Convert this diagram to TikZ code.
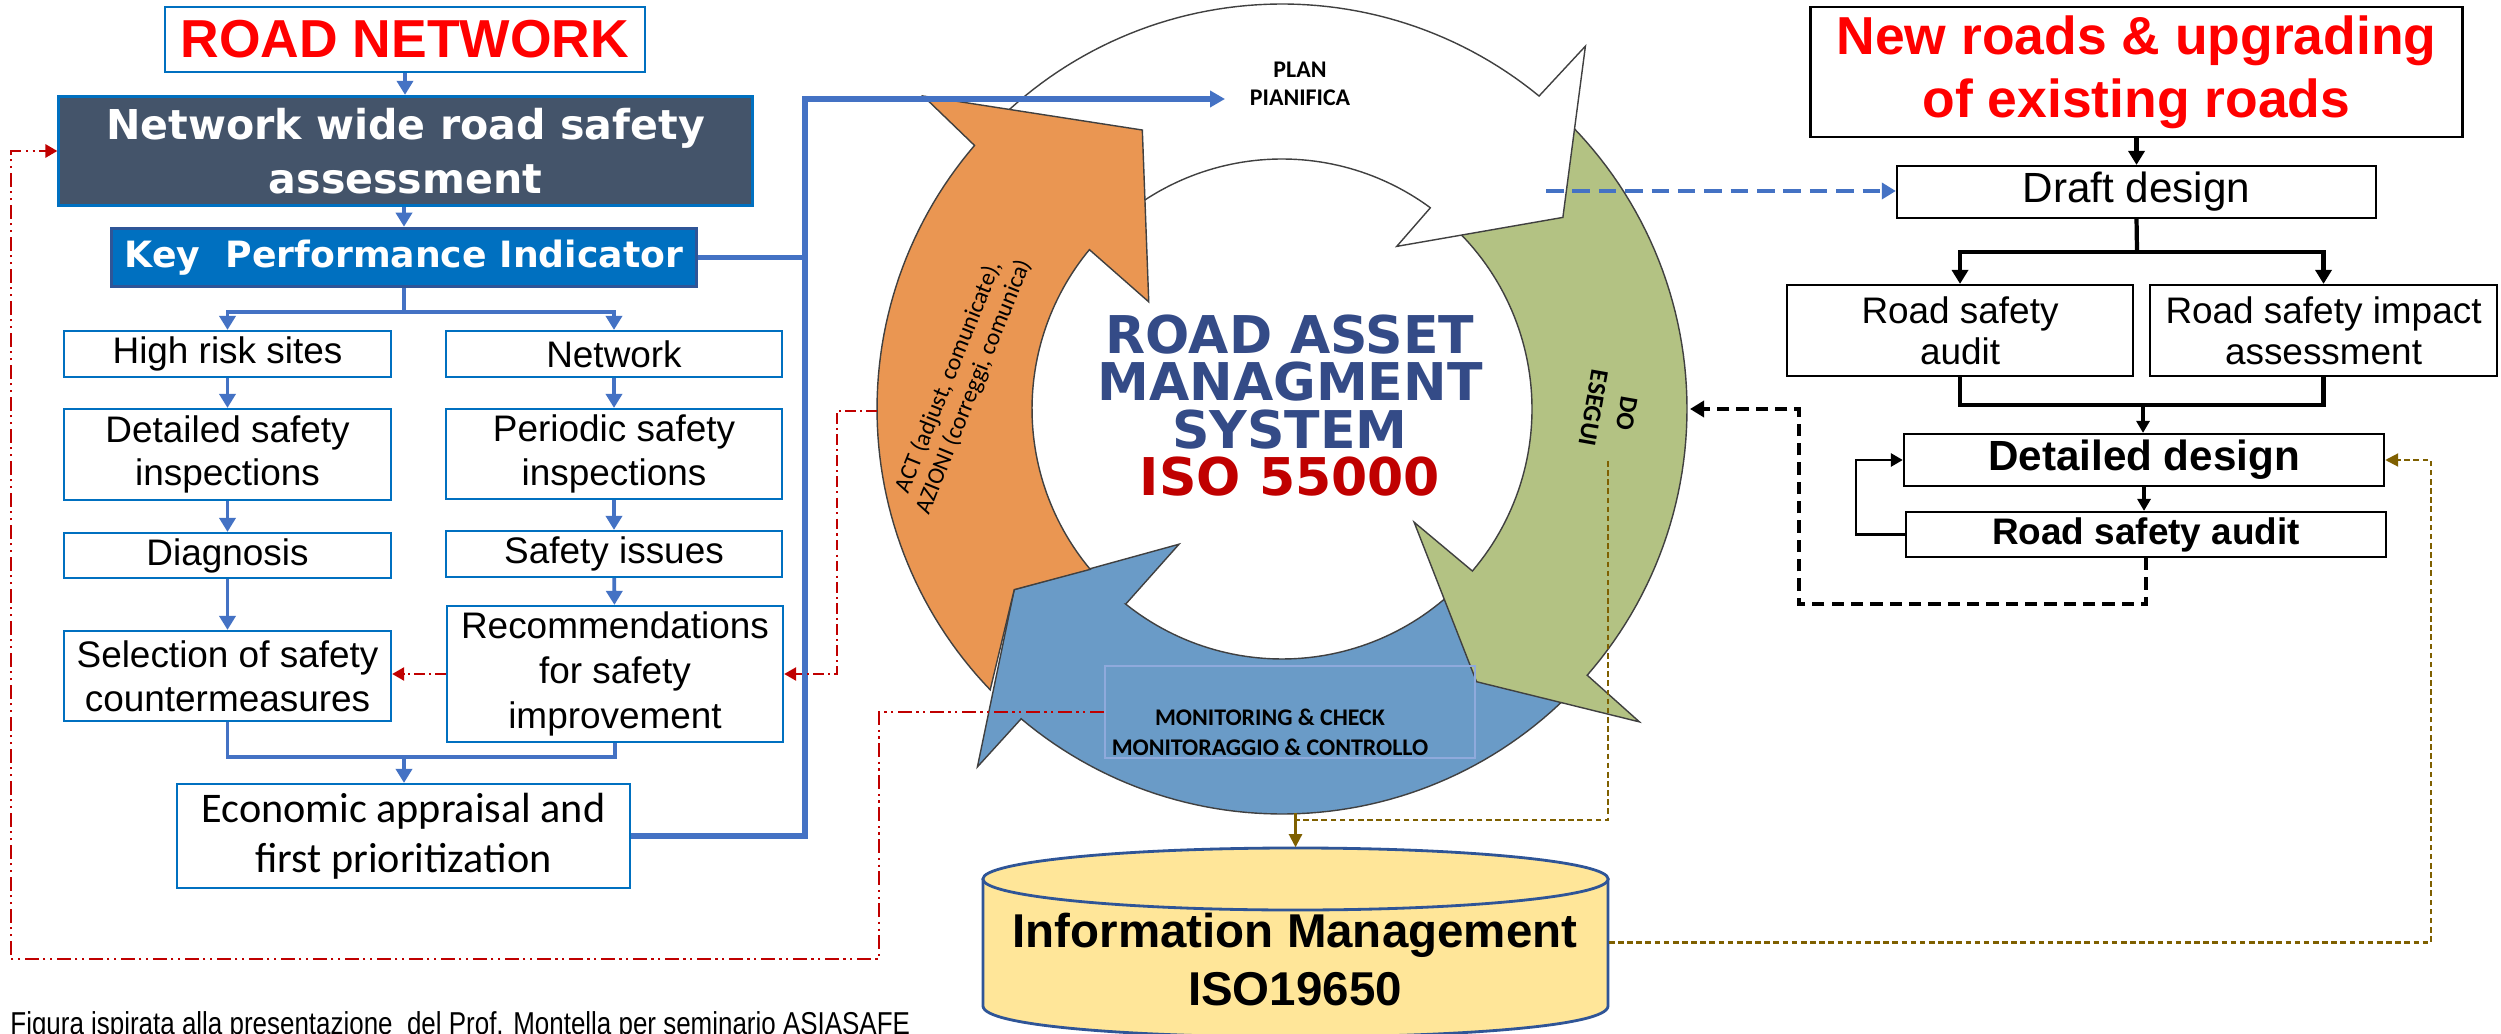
\documentclass[tikz,border=0pt]{standalone}
\usepackage{fontspec}
\setmainfont{Liberation Sans}
\newfontfamily\calib{Carlito}
\newfontfamily\dejavu{DejaVu Sans}
\newfontfamily\narrowf[FakeStretch=0.82]{Liberation Sans}
\usetikzlibrary{arrows.meta,calc}
\definecolor{lblue}{RGB}{0,112,192}
\definecolor{cblue}{RGB}{68,114,196}
\definecolor{slate}{RGB}{68,84,106}
\definecolor{kpiborder}{RGB}{47,85,151}
\definecolor{dred}{RGB}{192,0,0}
\definecolor{brred}{RGB}{255,0,0}
\definecolor{brn}{RGB}{127,96,0}
\definecolor{navy}{RGB}{52,75,135}
\definecolor{orangeA}{RGB}{234,150,82}
\definecolor{greenA}{RGB}{179,194,131}
\definecolor{blueA}{RGB}{106,155,199}
\definecolor{cylfill}{RGB}{255,230,153}
\definecolor{cylline}{RGB}{47,85,151}
\definecolor{monborder}{RGB}{143,170,220}
\definecolor{cycedge}{RGB}{64,64,64}
\tikzset{
  lbox/.style={draw=lblue, line width=0.6pt, fill=white, align=center, inner sep=0pt,
    font=\fontsize{10.5}{12.4}\selectfont},
  rbox/.style={draw=black, line width=0.6pt, fill=white, align=center, inner sep=0pt},
  conn/.style={draw=cblue, line width=1.1pt},
  conn2/.style={draw=cblue, line width=1.5pt},
  arrB/.style={-{Triangle[length=1.4mm,width=1.6mm]}},
  arrS/.style={-{Triangle[length=1.2mm,width=1.3mm]}},
  red1/.style={draw=dred, line width=0.7pt, dash pattern=on 3pt off 1.2pt on 0.6pt off 1.2pt},
  red2/.style={draw=dred, line width=0.8pt, dash pattern=on 4pt off 1.3pt on 0.6pt off 1.3pt on 0.6pt off 1.3pt},
  kconn/.style={draw=black, line width=1.2pt},
  kthin/.style={draw=black, line width=0.8pt},
  kdash/.style={draw=black, line width=1.3pt, dash pattern=on 3.5pt off 2pt},
  bdash/.style={draw=cblue, line width=1.4pt, dash pattern=on 5pt off 2.5pt},
  brdash/.style={draw=brn, line width=0.6pt, dash pattern=on 1.6pt off 1pt},
  cyc/.style={draw=cycedge, line width=0.4pt},
}
\begin{document}
\begin{tikzpicture}[x=0.01cm,y=-0.01cm]
\useasboundingbox (0,0) rectangle (2501,1034);
\clip (0,0) rectangle (2501,1034);
\fill[white] (0,0) rectangle (2501,1034);

% ---------------- cycle ----------------
\coordinate (O) at (1282,409);
\filldraw[cyc, fill=blueA] plot[domain=44:130.1,samples=60] ({1282+405*cos(\x)},{409+405*sin(\x)})
  -- ($(O)+(130.4:470)$) -- ($(O)+(146:323)$) -- ($(O)+(127.3:170)$) -- ($(O)+(128.7:250)$)
  -- plot[domain=128.7:44,samples=60] ({1282+250*cos(\x)},{409+250*sin(\x)}) -- cycle;
\filldraw[cyc, fill=greenA] plot[domain=-49:41.1,samples=60] ({1282+405*cos(\x)},{409+405*sin(\x)})
  -- ($(O)+(41.2:475)$) -- ($(O)+(54.5:335)$) -- ($(O)+(40.6:174)$) -- ($(O)+(40.4:250)$)
  -- plot[domain=40.4:-49,samples=60] ({1282+250*cos(\x)},{409+250*sin(\x)}) -- cycle;
\filldraw[cyc, fill=white] plot[domain=-135:-50.6,samples=60] ({1282+405*cos(\x)},{409+405*sin(\x)})
  -- ($(O)+(-50.1:473)$) -- ($(O)+(-34.3:340)$) -- ($(O)+(-54.8:199)$) -- ($(O)+(-53.6:250)$)
  -- plot[domain=-53.6:-135,samples=60] ({1282+250*cos(\x)},{409+250*sin(\x)}) -- cycle;
\filldraw[cyc, fill=orangeA] plot[domain=136.1:220.6,samples=60] ({1282+405*cos(\x)},{409+405*sin(\x)})
  -- ($(O)+(221.1:476)$) -- ($(O)+(243.4:312)$) -- ($(O)+(218.8:171)$) -- ($(O)+(219.6:250)$)
  -- plot[domain=219.6:140.1,samples=60] ({1282+250*cos(\x)},{409+250*sin(\x)})
  -- ($(O)+(146:323)$) -- cycle;

\node[font=\calib\bfseries\fontsize{6.8}{8.1}\selectfont, align=center] (plan) at (1300,84) {PLAN\\PIANIFICA};
\node[font=\calib\fontsize{6.8}{7.7}\selectfont, align=center, rotate=68] (act) at (961,382)
  {ACT (adjust, comunicate),\\AZIONI (correggi, comunica)};
\node[font=\calib\bfseries\fontsize{7.3}{9.6}\selectfont, align=center, rotate=-100] (do) at (1610,411) {DO\\ESEGUI};
\node[draw=monborder, line width=0.6pt, minimum width=3.7cm, minimum height=0.92cm] (monbox) at (1290,712) {};
\node[font=\calib\bfseries\fontsize{6.8}{8.5}\selectfont, align=center] (montxt) at (1270,732)
  {MONITORING \& CHECK\\MONITORAGGIO \& CONTROLLO};
\node[font=\dejavu\bfseries\fontsize{14.8}{13.4}\selectfont, text=navy, align=center] (ram) at (1290,405.5)
  {ROAD ASSET\\MANAGMENT\\SYSTEM\\\textcolor{dred}{ISO 55000}};

% ---------------- cylinder ----------------
\node[minimum width=6.25cm, minimum height=1.89cm] (cyl) at (1295.5,942.5) {};
\filldraw[fill=cylfill, draw=cylline, line width=0.8pt] (983,879) -- (983,1006)
  .. controls (983,1047.3) and (1608,1047.3) .. (1608,1006) -- (1608,879);
\filldraw[fill=cylfill, draw=cylline, line width=0.8pt] (1295.5,879) ellipse [x radius=3.125cm, y radius=0.31cm];
\node[font=\bfseries\fontsize{13.5}{16.5}\selectfont, align=center] (imtxt) at (1295,960)
  {Information Management\\ISO19650};

% ---------------- left flow ----------------
\node[draw=lblue, line width=0.6pt, fill=white, minimum width=4.8cm, minimum height=0.65cm,
  font=\bfseries\fontsize{15.2}{18}\selectfont, text=brred] (rn) at (405,39.5) {ROAD NETWORK};
\node[draw=lblue, line width=0.8pt, fill=slate, minimum width=6.93cm, minimum height=1.04cm, align=center,
  font=\dejavu\bfseries\fontsize{11.7}{15.4}\selectfont, text=white] (nw) at (405.5,151)
  {Network wide road safety\\assessment};
\node[draw=kpiborder, line width=0.8pt, fill=lblue, minimum width=5.84cm, minimum height=0.57cm,
  font=\dejavu\bfseries\fontsize{10.3}{12}\selectfont, text=white] (kpi) at (404,257.5)
  {Key\ \ Performance Indicator};
\node[lbox, minimum width=3.27cm, minimum height=0.46cm] (hr) at (227.5,354) {High risk sites};
\node[lbox, minimum width=3.36cm, minimum height=0.46cm] (net) at (614,354) {Network};
\node[lbox, minimum width=3.27cm, minimum height=0.91cm] (dsi) at (227.5,454.5) {Detailed safety\\inspections};
\node[lbox, minimum width=3.36cm, minimum height=0.90cm] (psi) at (614,454) {Periodic safety\\inspections};
\node[lbox, minimum width=3.27cm, minimum height=0.45cm] (diag) at (227.5,555.5) {Diagnosis};
\node[lbox, minimum width=3.36cm, minimum height=0.46cm] (si) at (614,554) {Safety issues};
\node[lbox, minimum width=3.27cm, minimum height=0.90cm] (sel) at (227.5,676) {Selection of safety\\countermeasures};
\node[lbox, minimum width=3.36cm, minimum height=1.36cm, font=\fontsize{10.5}{12.8}\selectfont] (rec) at (615,674)
  {Recommendations\\for safety\\improvement};
\node[lbox, minimum width=4.53cm, minimum height=1.04cm, font=\calib\fontsize{12}{14.2}\selectfont] (eco) at (403.5,836)
  {Economic appraisal and\\first prioritization};

\draw[conn, arrB] (rn.south) -- (rn.south |- nw.north);
\draw[conn, arrB] (nw.south -| kpi.north) -- (kpi.north);
\draw[conn] (kpi.south) -- ++(0,24) coordinate (ks);
\draw[conn, arrB] (ks) -| (hr.north);
\draw[conn, arrB] (ks) -| (net.north);
\draw[conn, arrB] (hr) -- (dsi);
\draw[conn, arrB] (dsi) -- (diag);
\draw[conn, arrB] (diag) -- (sel);
\draw[conn, arrB] (net) -- (psi);
\draw[conn, arrB] (psi) -- (si);
\draw[conn, arrB] (si) -- (rec);
\coordinate (jn) at (404,757);
\draw[conn] (sel.south) |- (jn) -| (rec.south);
\draw[conn, arrB] (jn) -- (jn |- eco.north);
\coordinate (bus) at (805,99);
\coordinate (plantip) at (1225,99);
\draw[conn2] (kpi.east) -- (kpi.east -| bus);
\draw[conn2, -{Triangle[length=1.5mm,width=1.6mm]}] (eco.east) -| (bus) -- (plantip);

% red dash-dot
\draw[red1, arrS, dred] (rec.west) -- (rec.west -| sel.east);
\coordinate (actL) at (877,411);
\draw[red1, arrS, dred] (actL) -- (837,411) |- (rec.east);
\draw[red2, arrS, dred] (monbox.west) -- (879,712) |- (11,959) |- (nw.west);

% ---------------- right flow ----------------
\node[rbox, line width=0.8pt, minimum width=6.51cm, minimum height=1.3cm,
  font=\bfseries\fontsize{15.2}{17.9}\selectfont, text=brred] (nr) at (2136.5,72)
  {New roads \& upgrading\\of existing roads};
\node[rbox, minimum width=4.79cm, minimum height=0.52cm, font=\fontsize{12}{14}\selectfont] (dd) at (2136.5,192) {Draft design};
\node[rbox, minimum width=3.46cm, minimum height=0.91cm, font=\fontsize{10.5}{11.7}\selectfont] (rsa) at (1960,330.5) {Road safety\\audit};
\node[rbox, minimum width=3.47cm, minimum height=0.91cm, font=\fontsize{10.5}{11.7}\selectfont] (rsia) at (2323.5,330.5) {Road safety impact\\assessment};
\node[rbox, minimum width=4.8cm, minimum height=0.52cm, font=\bfseries\fontsize{12}{14}\selectfont] (det) at (2144,460) {Detailed design};
\node[rbox, minimum width=4.8cm, minimum height=0.45cm, font=\bfseries\fontsize{10.5}{12}\selectfont] (rsa2) at (2146,534.5) {Road safety audit};

\draw[kconn, arrB] (nr.south) -- (nr.south |- dd.north);
\coordinate (ds) at (2137,252);
\draw[kconn] (dd.south) -- (ds);
\draw[kconn, arrB] (ds) -| (rsa.north);
\draw[kconn, arrB] (ds) -| (rsia.north);
\coordinate (js) at (2143,405);
\draw[kconn] (rsa.south) |- (js) -| (rsia.south);
\draw[kconn, arrS] (js) -- (js |- det.north);
\draw[kconn, arrS] (det.south) -- (det.south |- rsa2.north);
\draw[kthin, arrS] (rsa2.west) -- (1856,534.5) |- (det.west);
\coordinate (grR) at (1690,409);
\draw[kdash, arrB] (rsa2.south) -- (2146,604) -| (1799,409) -- (grR);
\coordinate (whR) at (1546,191);
\draw[bdash, arrB] (whR) -- (whR -| dd.west);
\coordinate (doB) at (1608,461);
\coordinate (blueB) at (1295.5,813);
\draw[brdash] (doB) |- (1295.5,820);
\draw[draw=brn, line width=0.6pt, -{Triangle[length=1.3mm,width=1.3mm]}] (blueB) -- (cyl.north);
\draw[brdash, -{Triangle[length=1.3mm,width=1.3mm]}, brn] (cyl.east) -- (2431,942.5) |- (det.east);

% footer
\node[anchor=base west, font=\narrowf\fontsize{9}{11}\selectfont] (fig) at (-2,1034)
  {Figura ispirata alla presentazione\ \ del Prof. Montella per seminario ASIASAFE};
\end{tikzpicture}
\end{document}
